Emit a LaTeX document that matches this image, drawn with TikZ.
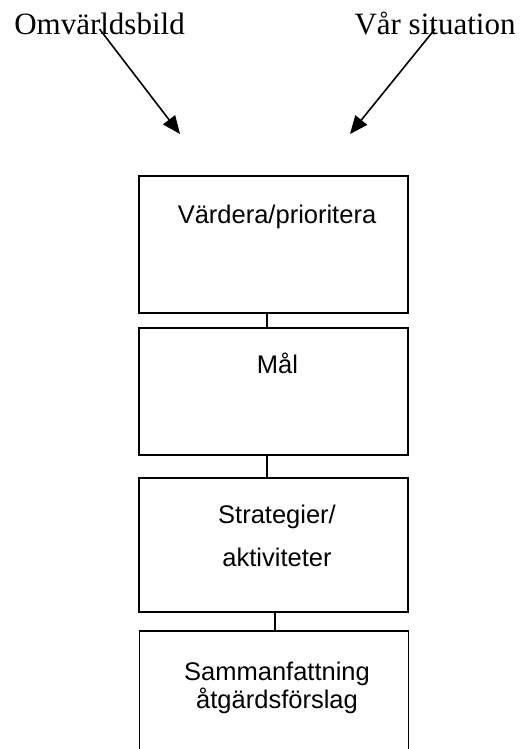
\documentclass[tikz,border=0pt]{standalone}
\usepackage{fontspec}
\setmainfont{Liberation Serif}
\newfontfamily\boxfont{Liberation Sans}
\usetikzlibrary{arrows.meta}

\begin{document}
\begin{tikzpicture}[x=1pt,y=-1pt,
  stage/.style={draw,line width=1.5pt,minimum width=269pt,inner sep=0pt},
  link/.style={line width=1.5pt},
  stagetext/.style={font=\boxfont\fontsize{25.5}{30}\selectfont,align=center,anchor=base,inner sep=0pt},
  source/.style={font=\fontsize{31}{34}\selectfont,anchor=base,inner sep=0pt},
  feed/.style={line width=1.6pt,-{Triangle[length=18pt,width=15pt]}}]

  \useasboundingbox (0,0) rectangle (530,749);

  % inputs
  \node [source] (omv) at (99.5,35) {Omvärldsbild};
  \node [source] (var) at (435,35) {Vår situation};
  \coordinate (tipL) at (180,134);
  \coordinate (tipR) at (350,134);
  \draw [feed] ([yshift=6pt]omv.base) -- (tipL);
  \draw [feed] ([yshift=6pt]var.base) -- (tipR);

  % stages
  \node [stage,minimum height=137pt] (vard) at (273.5,244.5) {};
  \node [stage,minimum height=127pt] (mal) at (273.5,391.5) {};
  \node [stage,minimum height=134pt] (strat) at (273.5,545) {};
  \node [stage,minimum height=150pt] (samm) at (274,706) {};

  \node [stagetext] (vardt) at (277,223) {Värdera/prioritera};
  \node [stagetext] (malt) at (277.5,373) {Mål};
  \node [stagetext] (strat1) at (277,523) {Strategier/};
  \node [stagetext] (strat2) at (277,566) {aktiviteter};
  \node [stagetext] (samm1) at (277,680) {Sammanfattning};
  \node [stagetext] (samm2) at (277,708) {åtgärdsförslag};

  \draw [link] ([xshift=-6.5pt]vard.south) -- ([xshift=-6.5pt]mal.north);
  \draw [link] ([xshift=-6.5pt]mal.south) -- ([xshift=-6.5pt]strat.north);
  \draw [link] ([xshift=1.5pt]strat.south) -- ([xshift=1pt]samm.north);

\end{tikzpicture}
\end{document}
